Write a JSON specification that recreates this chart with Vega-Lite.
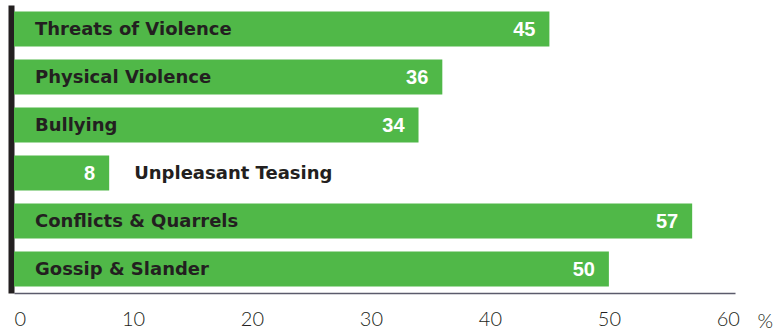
{
  "$schema": "https://vega.github.io/schema/vega-lite/v6.json",
  "width": 721,
  "height": 288,
  "autosize": "none",
  "padding": {"left": 14, "top": 5, "right": 41, "bottom": 38},
  "background": "white",
  "config": {"view": {"stroke": null}},
  "data": {
    "values": [
      {"category": "Threats of Violence", "value": 45},
      {"category": "Physical Violence", "value": 36},
      {"category": "Bullying", "value": 34},
      {"category": "Unpleasant Teasing", "value": 8},
      {"category": "Conflicts & Quarrels", "value": 57},
      {"category": "Gossip & Slander", "value": 50}
    ]
  },
  "encoding": {
    "y": {
      "field": "category",
      "type": "nominal",
      "sort": null,
      "scale": {"paddingInner": 0.27, "paddingOuter": 0.135},
      "axis": {
        "title": null,
        "labels": false,
        "ticks": false,
        "domain": true,
        "domainColor": "#231f20",
        "domainWidth": 6,
        "offset": 3
      }
    }
  },
  "layer": [
    {
      "mark": {"type": "bar", "color": "#50b848"},
      "encoding": {
        "x": {
          "field": "value",
          "type": "quantitative",
          "scale": {"domain": [0, 60.6], "nice": false, "zero": true},
          "axis": {
            "values": [0, 10, 20, 30, 40, 50, 60],
            "grid": false,
            "ticks": false,
            "domainColor": "#5b5b6b",
            "domainWidth": 1.5,
            "labelFont": "Lato",
            "labelFontWeight": 300,
            "labelFontSize": 20,
            "labelColor": "#231f20",
            "labelPadding": 16,
            "labelBaseline": "top",
            "title": "%",
            "titleFont": "Lato",
            "titleFontWeight": 300,
            "titleFontSize": 20,
            "titleColor": "#231f20",
            "titleX": 743,
            "titleY": 34,
            "titleAlign": "left",
            "titleBaseline": "alphabetic",
            "titleAnchor": null
          }
        }
      }
    },
    {
      "transform": [{"filter": "datum.value > 20"}],
      "mark": {"type": "text", "align": "left", "baseline": "middle", "dx": 21, "dy": 1, "font": "DejaVu Sans", "fontWeight": "bold", "fontSize": 18, "color": "#231f20"},
      "encoding": {
        "x": {"datum": 0, "type": "quantitative"},
        "text": {"field": "category"}
      }
    },
    {
      "transform": [{"filter": "datum.value <= 20"}],
      "mark": {"type": "text", "align": "left", "baseline": "middle", "dx": 25, "dy": 1, "font": "DejaVu Sans", "fontWeight": "bold", "fontSize": 18, "color": "#231f20"},
      "encoding": {
        "x": {"field": "value", "type": "quantitative"},
        "text": {"field": "category"}
      }
    },
    {
      "mark": {"type": "text", "align": "right", "baseline": "middle", "dx": -14, "dy": 1, "font": "Liberation Sans", "fontWeight": "bold", "fontSize": 20, "color": "white"},
      "encoding": {
        "x": {"field": "value", "type": "quantitative"},
        "text": {"field": "value", "type": "quantitative"}
      }
    }
  ]
}
